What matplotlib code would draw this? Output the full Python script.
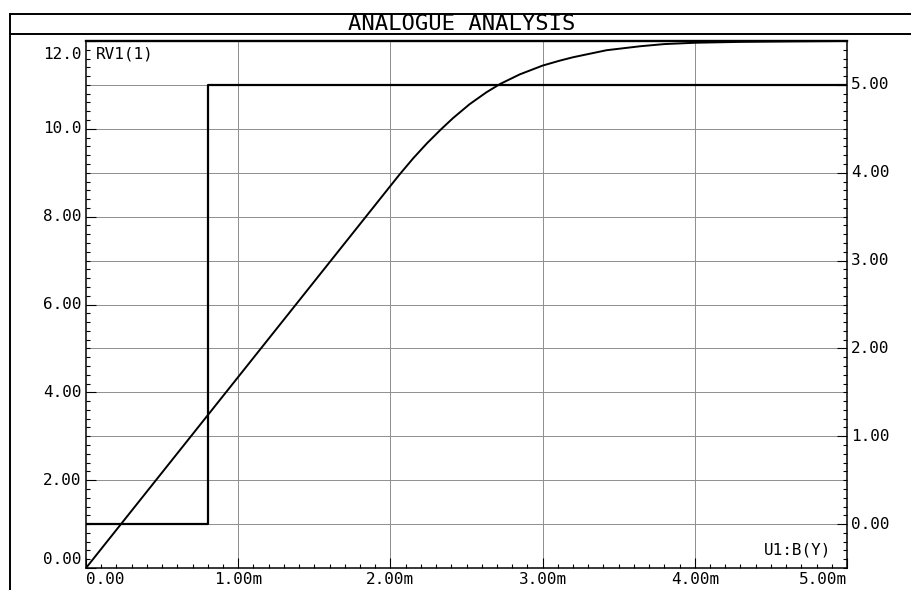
import numpy as np
import matplotlib
matplotlib.use("Agg")
import matplotlib.pyplot as plt
from matplotlib.lines import Line2D
from matplotlib.ticker import MultipleLocator

# RV1(1): analogue trace, time in ms, left axis
t_rv = [0.0, 1.0, 2.0, 2.06, 2.15, 2.24, 2.33, 2.41, 2.52, 2.63, 2.72,
        2.85, 3.0, 3.11, 3.2, 3.42, 3.64, 3.8, 4.0, 4.3, 4.6, 5.0]
v_rv = [0.0, 4.35, 8.70, 8.96, 9.33, 9.67, 9.98, 10.24, 10.56, 10.83, 11.02,
        11.24, 11.44, 11.55, 11.63, 11.79, 11.88, 11.93, 11.96, 11.98, 11.99, 12.0]

# U1:B(Y): digital trace, right axis
t_dig = [0.0, 0.8, 5.0]
v_dig = [0.0, 5.0, 5.0]

x_ticks = [0, 1, 2, 3, 4, 5]
x_labels = ["0.00", "1.00m", "2.00m", "3.00m", "4.00m", "5.00m"]
left_ticks = [0, 2, 4, 6, 8, 10, 12]
left_labels = ["0.00", "2.00", "4.00", "6.00", "8.00", "10.0", "12.0"]
right_ticks = [0, 1, 2, 3, 4, 5]
right_labels = ["0.00", "1.00", "2.00", "3.00", "4.00", "5.00"]

MONO = "DejaVu Sans Mono"
FS = 11.5
GRID = "#8e8e8e"

W, H = 912, 590
fig = plt.figure(figsize=(W / 100, H / 100), dpi=100)
fig.patch.set_facecolor("white")

# graph frame + title bar
for xs, ys in [((10 / W, 1), (1 - 14 / H, 1 - 14 / H)),
               ((10 / W, 1), (1 - 34 / H, 1 - 34 / H)),
               ((10 / W, 10 / W), (0, 1 - 14 / H))]:
    fig.add_artist(Line2D(xs, ys, transform=fig.transFigure, color="black", lw=1.4))
fig.text(462 / W, 1 - 24.5 / H, "ANALOGUE ANALYSIS", ha="center", va="center",
         family=MONO, fontsize=16)

L, R, T, B = 86, 847, 41, 568
ax = fig.add_axes([L / W, 1 - B / H, (R - L) / W, (B - T) / H])
ax2 = ax.twinx()

ax.set_xlim(0, 5)
ax.set_ylim(0, 12)
ax2.set_ylim(-0.5, 5.5)

# grid every 1 ms and every 1 unit of the left scale
for gx in np.arange(1, 5):
    ax.axvline(gx, color=GRID, lw=0.7, zorder=0)
for gy in np.arange(1, 12):
    ax.axhline(gy, color=GRID, lw=0.7, zorder=0)

ax.plot(t_rv, v_rv, color="black", lw=1.4, zorder=3)
ax2.plot(t_dig, v_dig, color="black", lw=1.6, drawstyle="steps-post", zorder=3)

# ticks
ax.set_xticks(x_ticks)
ax.set_yticks(left_ticks)
ax2.set_yticks(right_ticks)
ax.xaxis.set_minor_locator(MultipleLocator(0.1))
ax.yaxis.set_minor_locator(MultipleLocator(0.2))
ax2.yaxis.set_minor_locator(MultipleLocator(0.1))
for a in (ax, ax2):
    a.tick_params(which="major", direction="in", length=7.3, width=0.8,
                  labelleft=False, labelbottom=False, labelright=False)
    a.tick_params(which="minor", direction="in", length=2.9, width=0.8)
ax.tick_params(axis="y", which="both", right=False)
ax2.tick_params(axis="x", which="both", bottom=False, top=False)

for a in (ax, ax2):
    for s in a.spines.values():
        s.set_linewidth(1.1)
ax.spines["top"].set_linewidth(1.7)
ax2.spines["top"].set_visible(False)
ax2.spines["left"].set_visible(False)
ax2.spines["bottom"].set_visible(False)
ax.spines["right"].set_visible(False)

# left scale labels
for i, (y, lab) in enumerate(zip(left_ticks, left_labels)):
    va, dy = "center", 0
    if i == 0:
        va, dy = "bottom", 1
    elif i == len(left_ticks) - 1:
        va, dy = "top", -4
    ax.annotate(lab, xy=(0, y), xycoords=("axes fraction", "data"),
                xytext=(-3, dy), textcoords="offset points",
                ha="right", va=va, family=MONO, fontsize=FS)

# right scale labels
for y, lab in zip(right_ticks, right_labels):
    ax2.annotate(lab, xy=(1, y), xycoords=("axes fraction", "data"),
                 xytext=(3, 0), textcoords="offset points",
                 ha="left", va="center", family=MONO, fontsize=FS)

# time labels
for i, (x, lab) in enumerate(zip(x_ticks, x_labels)):
    ha = "center"
    if i == 0:
        ha = "left"
    elif i == len(x_ticks) - 1:
        ha = "right"
    ax.annotate(lab, xy=(x, 0), xycoords=("data", "axes fraction"),
                xytext=(0, -3), textcoords="offset points",
                ha=ha, va="top", family=MONO, fontsize=FS)

# trace names
ax.annotate("RV1(1)", xy=(0, 1), xycoords="axes fraction", xytext=(7, -4),
            textcoords="offset points", ha="left", va="top",
            family=MONO, fontsize=FS)
ax.annotate("U1:B(Y)", xy=(1, 0), xycoords="axes fraction", xytext=(-11, 13),
            textcoords="offset points", ha="right", va="center",
            family=MONO, fontsize=FS)

fig.savefig("out.png", dpi=100, facecolor="white")
